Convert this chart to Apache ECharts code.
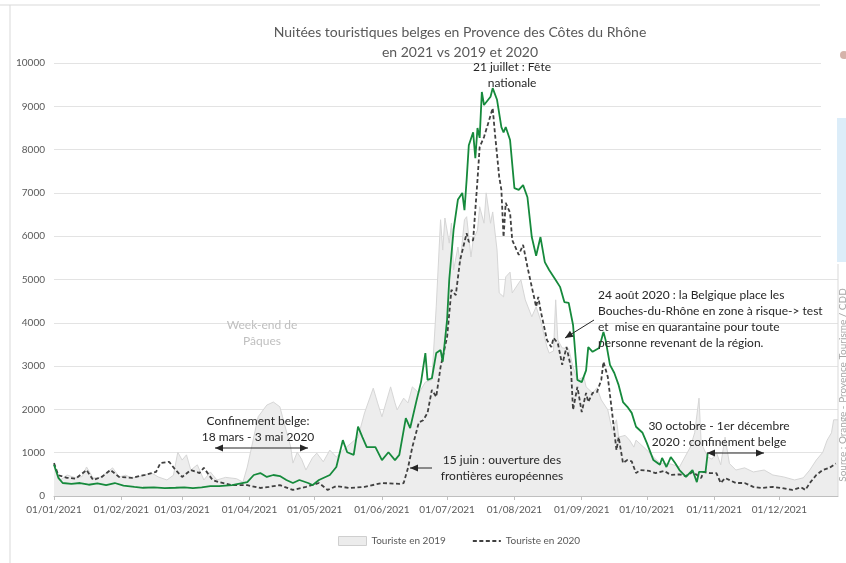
<!DOCTYPE html>
<html lang="fr">
<head>
<meta charset="UTF-8">
<title>Nuitées touristiques belges</title>
<script src="https://cdn.jsdelivr.net/npm/echarts@6/dist/echarts.min.js"></script>
<style>
  html, body { margin: 0; padding: 0; background: #fff; }
  #main { width: 846px; height: 563px; }
</style>
</head>
<body>
<div id="main"></div>
<script>
// Touriste en 2019 (aire grise)
var dates2019 = ['01-01','01-04','01-07','01-11','01-14','01-16','01-19','01-22','01-25','01-28','01-31',
  '02-03','02-06','02-11','02-15','02-18','02-22','02-25','02-27',
  '03-01','03-03','03-05','03-08','03-11','03-14','03-17','03-21','03-26','03-29','03-31',
  '04-02','04-05','04-09','04-12','04-15','04-17','04-20','04-21','04-23','04-25','04-27','04-30',
  '05-02','05-05','05-08','05-11','05-15','05-21','05-24','05-28','05-30',
  '06-01','06-05','06-07','06-08','06-11','06-13','06-15','06-18','06-21','06-24','06-26','06-28','06-29','06-30',
  '07-02','07-03','07-04','07-06','07-07','07-09','07-10','07-12','07-13','07-15','07-16','07-18','07-19','07-21','07-22','07-24','07-25','07-27','07-28','07-30','07-31',
  '08-03','08-04','08-06','08-09','08-11','08-13','08-16','08-17','08-19','08-20','08-21','08-23','08-26','08-28','08-30',
  '09-02','09-03','09-06','09-08','09-10','09-13','09-15','09-17','09-18','09-21','09-23','09-25','09-26',
  '10-01','10-04','10-07','10-12','10-16','10-21','10-23','10-25','10-26','10-29','10-31',
  '11-02','11-04','11-06','11-08','11-11','11-15','11-19','11-24','11-28',
  '12-03','12-08','12-12','12-15','12-18','12-21','12-23','12-25','12-26','12-28'];
var vals2019 = [720,370,485,420,450,670,415,430,530,650,440,
  480,415,470,530,440,370,480,1010,
  830,950,600,720,370,555,370,430,400,320,670,
  1130,1830,2100,2170,2060,1680,1130,760,1010,850,600,880,
  990,790,1060,900,1100,1360,1920,2490,2150,
  1830,2520,2150,1990,2260,2150,2520,2380,2630,2680,4370,6380,5680,6420,
  5840,6300,5220,5750,5380,6380,6450,5520,5910,6140,6680,6300,7000,6300,6560,5680,4690,4600,5060,5170,4690,
  4920,4990,4530,4140,4370,4070,3440,3300,3350,4530,3600,3420,3400,2980,2680,
  2750,2520,2380,2500,2220,1990,1520,1760,1360,1400,1290,1130,1290,
  1060,900,760,740,670,1130,1460,2260,1220,900,850,
  1010,720,1360,750,600,650,555,600,485,
  440,370,420,600,830,1010,1290,1460,1760,1760];

// Touriste en 2020 (pointillés)
var dates2020 = ['01-01','01-03','01-07','01-11','01-16','01-19','01-23','01-27','01-31',
  '02-06','02-12','02-17','02-19','02-23','02-26',
  '03-01','03-05','03-09','03-11','03-15','03-18','03-24','03-31',
  '04-06','04-10','04-15','04-21','04-27',
  '05-03','05-07','05-11','05-17','05-24',
  '06-01','06-09','06-11','06-13','06-15','06-18','06-20','06-22','06-24','06-26','06-28',
  '07-01','07-03','07-05','07-07','07-10','07-11','07-13','07-15','07-16','07-18','07-20','07-22','07-23','07-25','07-26','07-27','07-28','07-30','07-31',
  '08-03','08-05','08-07','08-09','08-11','08-12','08-13','08-16','08-18','08-19','08-21','08-23','08-25','08-27','08-28','08-30',
  '09-01','09-03','09-04','09-06','09-08','09-10','09-11','09-13','09-15','09-17','09-18','09-20','09-22','09-24','09-26','09-28',
  '10-02','10-05','10-09','10-12','10-16','10-19','10-22','10-26','10-27','10-30',
  '11-02','11-04','11-06','11-11','11-15','11-19','11-23','11-28',
  '12-02','12-07','12-11','12-13','12-15','12-18','12-21','12-24','12-27'];
var vals2020 = [760,480,420,400,600,370,440,600,440,
  420,490,555,760,790,600,
  440,600,530,650,370,320,250,250,
  185,210,250,140,210,
  300,140,230,185,210,
  300,280,300,650,1130,1700,1750,1920,2450,2290,2980,
  3670,4760,4640,5450,6070,5870,5910,7300,8060,8290,8620,8960,8390,7370,7070,5980,6770,6540,5910,
  5570,5800,5290,4830,4370,4600,4300,3600,3440,3650,3530,3030,3440,2980,1990,2520,
  1940,2380,2170,2380,2400,2680,3100,2750,1920,1060,1360,760,830,800,530,600,
  580,530,580,485,500,460,555,415,555,530,
  530,300,415,300,300,210,185,210,
  185,140,200,140,300,485,600,650,750];

// 2021 (ligne verte, jusqu'à fin octobre)
var dates2021 = ['01-01','01-03','01-05','01-09','01-13','01-17','01-21','01-25','01-29',
  '02-02','02-07','02-11','02-16','02-21','02-26',
  '03-02','03-06','03-10','03-14','03-18','03-24','03-31',
  '04-03','04-06','04-09','04-12','04-15','04-18','04-21','04-24','04-28','04-30',
  '05-03','05-08','05-11','05-14','05-16','05-19','05-21','05-23','05-25','05-29',
  '06-01','06-04','06-07','06-09','06-12','06-14','06-17','06-19','06-21','06-22','06-24','06-26','06-28','06-29',
  '07-01','07-02','07-04','07-06','07-08','07-09','07-10','07-11','07-13','07-14','07-15','07-16','07-17','07-18','07-21','07-22','07-24','07-26','07-27','07-28','07-30',
  '08-01','08-03','08-05','08-07','08-09','08-11','08-13','08-15','08-17','08-20','08-22','08-24','08-26','08-28','08-30',
  '09-01','09-03','09-04','09-06','09-09','09-11','09-12','09-14','09-16','09-18','09-20','09-22','09-24','09-26','09-29',
  '10-01','10-04','10-07','10-08','10-10','10-12','10-14','10-16','10-19','10-22','10-24','10-25','10-28','10-29'];
var vals2021 = [720,420,300,280,300,260,290,250,300,
  240,210,190,200,180,190,
  200,180,200,230,230,250,320,
  485,530,440,485,460,370,300,370,300,250,
  370,485,670,1290,1010,950,1600,1360,1130,1130,
  830,1010,830,950,1800,1570,2220,2630,3300,2680,2720,3300,3370,3100,
  4070,5000,6150,6850,7000,6600,7300,8100,8400,7800,8500,8270,9330,9030,9220,9420,9150,8520,8400,8520,8220,
  7110,7070,7180,6900,5980,5550,5980,5400,5220,4990,4830,4480,4460,3950,2680,
  2630,2900,3440,3330,3420,3790,3600,3030,2840,2560,2170,2060,1920,1600,1460,
  1220,830,720,880,670,900,760,600,440,600,320,555,560,990];

var yTicks = [0, 10000, 1000];

function pairs(dates, vals) {
  return dates.map(function (d, i) { return ['2021-' + d, vals[i]]; });
}

var FONT = 'Lato, "Noto Sans", sans-serif';
var INK = '#262626';

function arrow(x1, y1, x2, y2, both) {
  var els = [{
    type: 'line', z: 50,
    shape: { x1: x1, y1: y1, x2: x2, y2: y2 },
    style: { stroke: INK, lineWidth: 1 }
  }];
  function head(px, py, ang) {
    var L = 8, W = 3.5, c = Math.cos(ang), s = Math.sin(ang);
    return {
      type: 'polygon', z: 50,
      shape: { points: [[px, py], [px - L * c + W * s, py - L * s - W * c], [px - L * c - W * s, py - L * s + W * c]] },
      style: { fill: INK }
    };
  }
  var a = Math.atan2(y2 - y1, x2 - x1);
  els.push(head(x2, y2, a));
  if (both) els.push(head(x1, y1, a + Math.PI));
  return els;
}

function note(x, y, txt, align, color) {
  return {
    type: 'text', z: 50, x: x, y: y,
    style: {
      text: txt, fill: color || INK, font: '12px ' + FONT,
      textAlign: align || 'center', textVerticalAlign: 'top', lineHeight: 16
    }
  };
}

var graphics = [
  // cadre et éléments de bord
  { type: 'line', z: 1, shape: { x1: 0, y1: 5, x2: 820, y2: 5 }, style: { stroke: '#d9d9d9', lineWidth: 1 } },
  { type: 'line', z: 1, shape: { x1: 10, y1: 5, x2: 10, y2: 563 }, style: { stroke: '#d9d9d9', lineWidth: 1 } },
  { type: 'rect', z: 40, shape: { x: 821, y: 0, width: 25, height: 264 }, style: { fill: '#fff' } },
  { type: 'rect', z: 41, shape: { x: 837, y: 118, width: 9, height: 144 }, style: { fill: '#dcedf9' } },
  { type: 'circle', z: 41, shape: { cx: 844, cy: 55, r: 4 }, style: { fill: '#d4b3aa' } },
  { type: 'line', z: 41, shape: { x1: 838, y1: 264, x2: 838, y2: 496 }, style: { stroke: '#d9d9d9', lineWidth: 1 } },
  {
    type: 'text', z: 41, x: 843, y: 385, rotation: Math.PI / 2,
    style: { text: 'Source : Orange - Provence Tourisme / CDD', fill: '#a6a6a6', font: '10px ' + FONT,
      textAlign: 'center', textVerticalAlign: 'middle' }
  },
  note(512, 59, '21 juillet : Fête\nnationale'),
  note(262, 317, 'Week-end de\nPâques', 'center', '#bfbfbf'),
  note(258, 413, 'Confinement belge:\n18 mars - 3 mai 2020'),
  note(502, 452, '15 juin : ouverture des\nfrontières européennes'),
  note(598, 287, '24 août 2020 : la Belgique place les\nBouches-du-Rhône en zone à risque-> test\net  mise en quarantaine pour toute\npersonne revenant de la région.', 'left'),
  note(719, 418, '30 octobre - 1er décembre\n2020 : confinement belge')
]
  .concat(arrow(215, 448, 308, 448, true))
  .concat(arrow(432, 468, 410, 468, false))
  .concat(arrow(594, 320, 565, 338, false))
  .concat(arrow(707, 453, 764, 453, true));

var chart = echarts.init(document.getElementById('main'));
chart.setOption({
  animation: false,
  backgroundColor: '#fff',
  textStyle: { fontFamily: FONT },
  title: {
    text: 'Nuitées touristiques belges en Provence des Côtes du Rhône\nen 2021 vs 2019 et 2020',
    left: 455, top: 17, textAlign: 'center',
    textStyle: { fontSize: 14, fontWeight: 'normal', color: '#595959', lineHeight: 20, fontFamily: FONT }
  },
  grid: { left: 54, right: 8, top: 63, bottom: 67 },
  legend: {
    left: 333, top: 531, itemWidth: 28, itemHeight: 9, itemGap: 26,
    textStyle: { fontSize: 10, color: '#595959', fontFamily: FONT },
    data: [
      { name: 'Touriste en 2019', icon: 'rect', itemStyle: { color: '#ececec', borderColor: '#cfcfcf', borderWidth: 1 } },
      { name: 'Touriste en 2020', itemStyle: { opacity: 0 } }
    ]
  },
  xAxis: {
    type: 'time',
    min: '2021-01-01', max: '2021-12-28',
    minInterval: 28 * 86400000, maxInterval: 31 * 86400000,
    splitLine: { show: false },
    axisLine: { lineStyle: { color: '#bfbfbf' } },
    axisTick: { show: true, length: 4, lineStyle: { color: '#bfbfbf' } },
    axisLabel: { formatter: '{dd}/{MM}/{yyyy}', fontSize: 10, color: '#595959', margin: 9, showMaxLabel: false, fontWeight: 'normal' }
  },
  yAxis: {
    type: 'value', min: yTicks[0], max: yTicks[1], interval: yTicks[2],
    axisLine: { show: false }, axisTick: { show: false },
    splitLine: { lineStyle: { color: '#e3e3e3' } },
    axisLabel: { fontSize: 10, color: '#595959', margin: 9, formatter: function (v) { return String(v); } }
  },
  series: [
    {
      name: 'Touriste en 2019', type: 'line', symbol: 'none', z: 1,
      data: pairs(dates2019, vals2019),
      lineStyle: { color: '#d6d6d6', width: 1 },
      itemStyle: { color: '#ececec' },
      areaStyle: { color: '#ededed', opacity: 1 }
    },
    {
      name: 'Touriste en 2020', type: 'line', symbol: 'none', z: 3,
      data: pairs(dates2020, vals2020),
      lineStyle: { color: '#404040', width: 1.8, type: [4, 2.5] },
      itemStyle: { color: '#404040' }
    },
    {
      name: '2021', type: 'line', symbol: 'none', z: 4,
      data: pairs(dates2021, vals2021),
      lineStyle: { color: '#168a3c', width: 1.8 },
      itemStyle: { color: '#168a3c' }
    }
  ],
  graphic: graphics
});
</script>
</body>
</html>
